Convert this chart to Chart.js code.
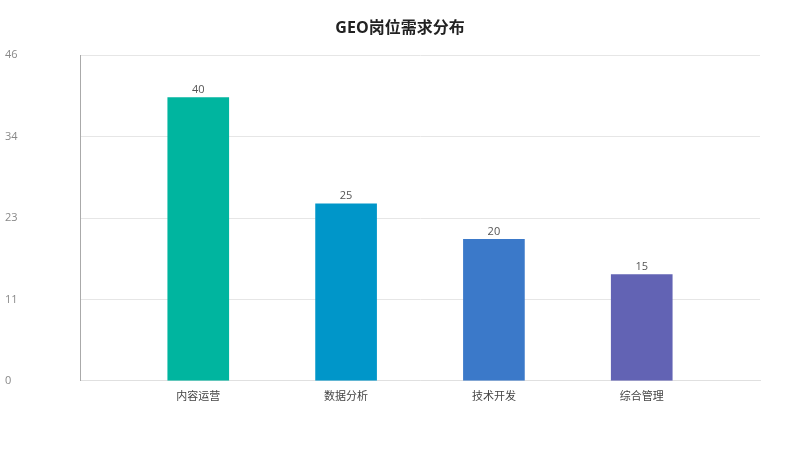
<!DOCTYPE html>
<html><head><meta charset="utf-8">
<script src="https://cdn.jsdelivr.net/npm/chart.js@4/dist/chart.umd.min.js"></script>
<style>html,body{margin:0;padding:0;background:#fff}#wrap{width:800px;height:450px}</style>
</head><body><div id="wrap"><canvas id="c"></canvas></div>
<script>
const title = 'GEO岗位需求分布';
const categories = ['内容运营', '数据分析', '技术开发', '综合管理'];
const values = [40, 25, 20, 15];
const barColors = ['#00b59f', '#0096c9', '#3b79c9', '#6263b4'];
const yMax = 46;
const yStep = 11.5;

const FONT = '"Open Sans", "Noto Sans CJK SC", sans-serif';

const valueLabels = {
  id: 'valueLabels',
  afterDatasetsDraw(chart) {
    const ctx = chart.ctx;
    const meta = chart.getDatasetMeta(0);
    ctx.save();
    ctx.font = '11px ' + FONT;
    ctx.fillStyle = '#555';
    ctx.textAlign = 'center';
    ctx.textBaseline = 'bottom';
    meta.data.forEach((el, i) => {
      ctx.fillText(String(values[i]), el.x, el.y - 2);
    });
    ctx.restore();
  }
};

new Chart(document.getElementById('c'), {
  type: 'bar',
  data: {
    datasets: [{
      data: values.map((v, i) => ({x: i, y: v})),
      backgroundColor: barColors,
      barThickness: 61
    }]
  },
  options: {
    responsive: true,
    maintainAspectRatio: false,
    animation: false,
    layout: {padding: {left: 5, right: 5, top: 5, bottom: 38}},
    plugins: {
      legend: {display: false},
      tooltip: {enabled: false},
      title: {
        display: true, text: title, color: '#222',
        font: {family: FONT, size: 16, weight: 'bold'},
        padding: {top: 14, bottom: 17}
      }
    },
    scales: {
      x: {
        type: 'linear',
        offset: false,
        min: -0.8, max: 3.8,
        afterBuildTicks(scale) {
          scale.ticks = categories.map((c, i) => ({value: i}));
        },
        ticks: {
          autoSkip: false,
          maxRotation: 0,
          color: '#444',
          font: {family: FONT, size: 11},
          padding: 9,
          callback: (v) => categories[v] ?? ''
        },
        grid: {display: false, drawTicks: false},
        border: {display: true, color: '#e0e0e0'}
      },
      y: {
        min: 0, max: yMax,
        afterBuildTicks(scale) {
          const t = [];
          for (let v = 0; v <= yMax + 1e-9; v += yStep) t.push({value: v});
          scale.ticks = t;
        },
        afterFit(scale) { scale.width = 75; },
        ticks: {
          color: '#888',
          font: {family: FONT, size: 11},
          crossAlign: 'far',
          callback: (v) => Math.floor(v)
        },
        grid: {color: '#e6e6e6', drawTicks: false},
        border: {display: true, color: '#aaa'}
      },
      yRight: {
        display: true,
        position: 'right',
        min: 0, max: yMax,
        afterFit(scale) { scale.width = 35; },
        ticks: {display: false},
        grid: {display: false, drawTicks: false},
        border: {display: false}
      }
    }
  },
  plugins: [valueLabels]
});
</script></body></html>
